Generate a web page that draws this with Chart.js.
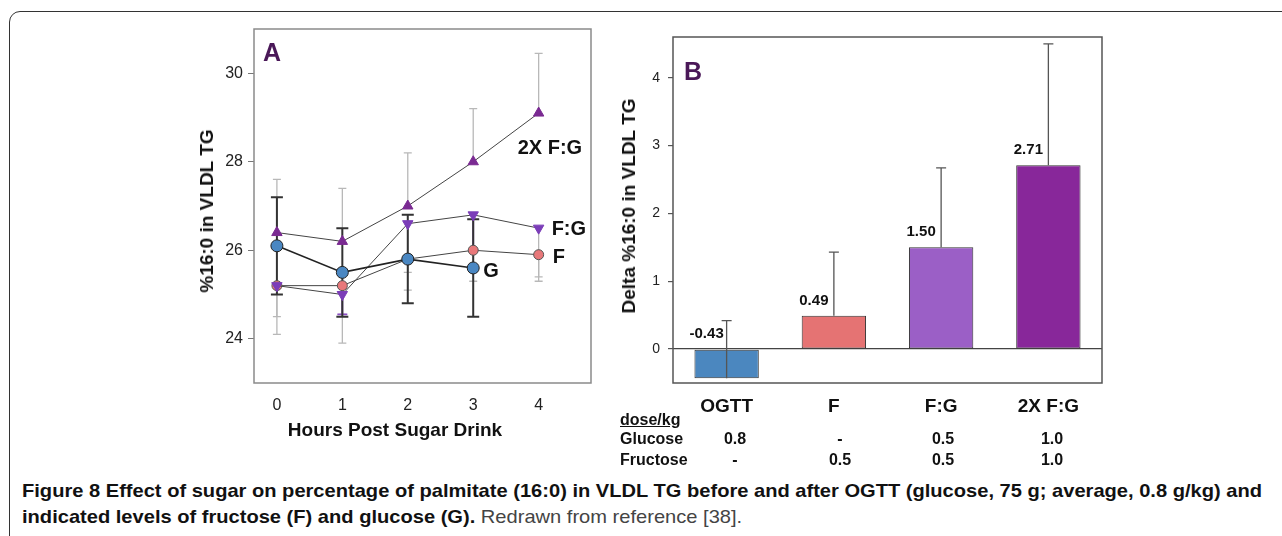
<!DOCTYPE html>
<html>
<head>
<meta charset="utf-8">
<script src="https://cdn.jsdelivr.net/npm/chart.js@4.4.0/dist/chart.umd.min.js"></script>
<style>
body { margin: 0; background: #fff; width: 1282px; height: 536px; overflow: hidden; position: relative;
       font-family: 'Liberation Sans', Arial, sans-serif; color: #111; }
.frame { position: absolute; left: 9px; top: 11px; width: 1300px; height: 560px; border: 1.5px solid #333; border-radius: 11px; }
.box { position: absolute; }
.t { position: absolute; white-space: nowrap; font-weight: bold; }
.rot { transform: translate(-50%, -50%) rotate(-90deg); }
.mid { transform: translate(-50%, -50%); }
.letter { font-size: 25px; color: #4a1858; }
.cap { position: absolute; left: 22px; white-space: nowrap; font-size: 19px; transform-origin: 0 50%;
       font-family: 'Liberation Sans Narrow', 'Liberation Sans', sans-serif; color: #111; }
.cap span { font-weight: normal; color: #444; }
</style>
</head>
<body>
<div class="frame"></div>

<div class="box" style="left:180px;top:20px"><canvas id="chartA" width="430" height="420"></canvas></div>
<div class="box" style="left:600px;top:20px"><canvas id="chartB" width="520" height="420"></canvas></div>

<div class="t letter" style="left:263px;top:38px">A</div>
<div class="t letter" style="left:684px;top:57px">B</div>

<div class="t rot" style="left:207px;top:211px;font-size:19px">%16:0 in VLDL TG</div>
<div class="t mid" style="left:395px;top:430px;font-size:19px">Hours Post Sugar Drink</div>
<div class="t rot" style="left:629px;top:206px;font-size:19px">Delta %16:0 in VLDL TG</div>

<div id="doseTable"></div>

<div class="cap" id="cap1" style="top:480px"><b>Figure 8 Effect of sugar on percentage of palmitate (16:0) in VLDL TG before and after OGTT (glucose, 75 g; average, 0.8 g/kg) and</b></div>
<div class="cap" id="cap2" style="top:506px"><b>indicated levels of fructose (F) and glucose (G).</b><span> Redrawn from reference [38].</span></div>

<script>
// Panel A: hours after drink
var hours = [0, 1, 2, 3, 4];

var gMean = [26.1, 25.5, 25.8, 25.6];
var gLow = [25.0, 24.5, 24.8, 24.5];
var gHigh = [27.2, 26.5, 26.8, 26.7];

var fMean = [25.2, 25.2, 25.8, 26.0, 25.9];
var fLow = [24.1, 23.9, 25.1, 25.3, 25.3];

var fgMean = [25.2, 25.0, 26.6, 26.8, 26.5];
var fgLow = [24.5, 24.55, 25.5, 26.0, 25.4];

var fg2Mean = [26.4, 26.2, 27.0, 28.0, 29.1];
var fg2High = [27.6, 27.4, 28.2, 29.2, 30.45];

var yTicksA = [24, 26, 28, 30];

// Panel B: change from baseline
var groups = ['OGTT', 'F', 'F:G', '2X F:G'];
var delta = [-0.43, 0.49, 1.50, 2.71];
var deltaHigh = [0.42, 1.43, 2.67, 4.50];
var yTicksB = [0, 1, 2, 3, 4];

var glucoseDose = ['0.8', '-', '0.5', '1.0'];
var fructoseDose = ['-', '0.5', '0.5', '1.0'];

function pts(xs, ys) {
    return ys.map(function (v, i) { return { x: xs[i], y: v }; });
}

var boxPlugin = {
    id: 'plotBox',
    afterDraw: function (chart, args, opts) {
        var a = chart.chartArea, ctx = chart.ctx;
        ctx.save();
        ctx.strokeStyle = opts.color;
        ctx.lineWidth = opts.width;
        ctx.strokeRect(a.left, a.top, a.right - a.left, a.bottom - a.top);
        ctx.restore();
    }
};

function drawBars(chart, list) {
    var ctx = chart.ctx, xs = chart.scales.x, ys = chart.scales.y;
    list.forEach(function (b) {
        ctx.save();
        ctx.strokeStyle = b.color;
        ctx.lineWidth = b.width;
        b.from.forEach(function (v, i) {
            if (b.to[i] == null) return;
            if (b.only && b.only.indexOf(i) < 0) return;
            var x = xs.getPixelForValue(b.x[i]);
            var y1 = ys.getPixelForValue(v), y2 = ys.getPixelForValue(b.to[i]);
            ctx.beginPath();
            ctx.moveTo(x, y1); ctx.lineTo(x, y2);
            ctx.moveTo(x - b.cap, y2); ctx.lineTo(x + b.cap, y2);
            ctx.stroke();
        });
        ctx.restore();
    });
}

var errorPlugin = {
    id: 'errorBars',
    beforeDatasetsDraw: function (chart, args, opts) { drawBars(chart, opts.under || []); },
    afterDatasetsDraw: function (chart, args, opts) { drawBars(chart, opts.over || []); }
};

var textPlugin = {
    id: 'pointText',
    afterDatasetsDraw: function (chart, args, opts) {
        var ctx = chart.ctx;
        ctx.save();
        ctx.font = opts.font;
        ctx.fillStyle = '#111';
        ctx.textBaseline = 'middle';
        (opts.items || []).forEach(function (it) {
            var el = chart.getDatasetMeta(it.dataset).data[it.index];
            ctx.textAlign = it.align || 'left';
            ctx.fillText(it.text, el.x + it.dx, el.y + it.dy);
        });
        ctx.restore();
    }
};

function fixWidth(w) {
    return function (scale) {
        scale.width = w;
        scale.paddingTop = 0; scale.paddingBottom = 0;
    };
}
function fixHeight(h) {
    return function (scale) {
        scale.height = h;
        scale.paddingLeft = 0; scale.paddingRight = 0;
    };
}
function setTicks(list) {
    return function (scale) {
        scale.ticks = list.map(function (v) { return { value: v }; });
    };
}

var tickFont = { family: "'Liberation Sans', Arial, sans-serif", size: 16 };

new Chart(document.getElementById('chartA'), {
    type: 'line',
    data: {
        datasets: [
            { label: 'G', data: pts(hours, gMean), borderColor: '#222', borderWidth: 1.6,
              pointRadius: 6, pointBackgroundColor: '#4a87c2', pointBorderColor: '#222', pointBorderWidth: 1 },
            { label: 'F:G', data: pts(hours, fgMean), borderColor: '#444', borderWidth: 1,
              pointStyle: 'triangle', rotation: 180, pointRadius: 6,
              pointBackgroundColor: '#7b3db8', pointBorderColor: '#7b3db8' },
            { label: 'F', data: pts(hours, fMean), borderColor: '#444', borderWidth: 1,
              pointRadius: 5, pointBackgroundColor: '#e8787a', pointBorderColor: '#555', pointBorderWidth: 1 },
            { label: '2X F:G', data: pts(hours, fg2Mean), borderColor: '#444', borderWidth: 1,
              pointStyle: 'triangle', pointRadius: 6,
              pointBackgroundColor: '#7a2a92', pointBorderColor: '#7a2a92' }
        ]
    },
    options: {
        responsive: false,
        animation: false,
        layout: { padding: { left: 24, top: 9, right: 19, bottom: 17 } },
        scales: {
            x: {
                type: 'linear', min: -0.35, max: 4.8,
                afterBuildTicks: setTicks(hours),
                afterFit: fixHeight(40),
                grid: { display: false, drawTicks: false },
                border: { display: false },
                ticks: { font: tickFont, color: '#222', padding: 13 }
            },
            y: {
                min: 23, max: 31,
                afterBuildTicks: setTicks(yTicksA),
                afterFit: fixWidth(50),
                grid: { drawOnChartArea: false, drawTicks: true, tickLength: 6, color: '#777' },
                border: { display: false },
                ticks: { font: tickFont, color: '#222', padding: 5 }
            }
        },
        plugins: {
            legend: { display: false },
            tooltip: { enabled: false },
            plotBox: { color: '#8a8a8a', width: 1.5 },
            errorBars: {
                under: [
                    { x: hours, from: fg2Mean, to: fg2High, color: '#b8b8b8', width: 1.3, cap: 4 },
                    { x: hours, from: fMean, to: fLow, color: '#b8b8b8', width: 1.3, cap: 4 },
                    { x: hours, from: fgMean, to: fgLow, color: '#b8b8b8', width: 1.3, cap: 4 },
                    { x: hours, from: fgMean, to: fgLow, color: '#8a4cc4', width: 1.8, cap: 5, only: [1, 3] },
                    { x: hours, from: gMean, to: gHigh, color: '#333', width: 2, cap: 6 },
                    { x: hours, from: gMean, to: gLow, color: '#333', width: 2, cap: 6 }
                ]
            },
            pointText: {
                font: "bold 20px 'Liberation Sans', Arial, sans-serif",
                items: [
                    { text: '2X F:G', dataset: 3, index: 4, dx: -21, dy: 35 },
                    { text: 'F:G', dataset: 1, index: 4, dx: 13, dy: 1 },
                    { text: 'F', dataset: 2, index: 4, dx: 14, dy: 3 },
                    { text: 'G', dataset: 0, index: 3, dx: 10, dy: 4 }
                ]
            }
        }
    },
    plugins: [boxPlugin, errorPlugin, textPlugin]
});

var valuePlugin = {
    id: 'barValues',
    afterDatasetsDraw: function (chart) {
        var ctx = chart.ctx, xs = chart.scales.x, ys = chart.scales.y;
        ctx.save();
        ctx.font = "bold 15px 'Liberation Sans', Arial, sans-serif";
        ctx.fillStyle = '#111';
        ctx.textAlign = 'center';
        ctx.textBaseline = 'middle';
        delta.forEach(function (v, i) {
            ctx.fillText(v.toFixed(2), xs.getPixelForValue(i) - 20, ys.getPixelForValue(Math.max(v, 0)) - 15);
        });
        ctx.restore();
    }
};

new Chart(document.getElementById('chartB'), {
    type: 'bar',
    data: {
        labels: groups,
        datasets: [{
            data: delta,
            backgroundColor: ['#4b87bf', '#e57373', '#9b5fc6', '#88279a'],
            borderColor: '#333',
            borderWidth: 1,
            borderSkipped: false,
            barPercentage: 0.6,
            categoryPercentage: 1
        }]
    },
    options: {
        responsive: false,
        animation: false,
        layout: { padding: { left: 23, top: 17, right: 18, bottom: 17 } },
        scales: {
            x: {
                afterFit: fixHeight(40),
                grid: { display: false, drawTicks: false },
                border: { display: false },
                ticks: { font: { family: "'Liberation Sans', Arial, sans-serif", size: 19, weight: 'bold' }, color: '#111', padding: 12 }
            },
            y: {
                min: -0.5, max: 4.6,
                afterBuildTicks: setTicks(yTicksB),
                afterFit: fixWidth(50),
                grid: {
                    drawTicks: true, tickLength: 5, tickColor: '#555',
                    color: function (c) { return c.tick && c.tick.value === 0 ? '#444' : 'rgba(0,0,0,0)'; },
                    lineWidth: 1.2
                },
                border: { display: false },
                ticks: { font: { family: "'Liberation Sans', Arial, sans-serif", size: 14 }, color: '#222', padding: 8 }
            }
        },
        plugins: {
            legend: { display: false },
            tooltip: { enabled: false },
            plotBox: { color: '#555', width: 1.5 },
            errorBars: {
                over: [
                    { x: [0, 1, 2, 3], from: delta, to: deltaHigh, color: '#555', width: 1.3, cap: 5 }
                ]
            }
        }
    },
    plugins: [boxPlugin, errorPlugin, valuePlugin]
});

// dose table under panel B
var colX = [735, 840, 943, 1052];
var table = document.getElementById('doseTable');
function addText(txt, left, top, center, extra) {
    var d = document.createElement('div');
    d.className = 't' + (center ? ' mid' : '');
    d.style.left = left + 'px';
    d.style.top = top + 'px';
    d.style.fontSize = '16px';
    if (!center) d.style.transform = 'translateY(-50%)';
    if (extra) d.style.textDecoration = extra;
    d.textContent = txt;
    table.appendChild(d);
}
addText('dose/kg', 620, 420, false, 'underline');
addText('Glucose', 620, 439, false);
addText('Fructose', 620, 460, false);
glucoseDose.forEach(function (v, i) { addText(v, colX[i], 439, true); });
fructoseDose.forEach(function (v, i) { addText(v, colX[i], 460, true); });

// squeeze caption line 1 to the reference width
var c1 = document.getElementById('cap1'), c2 = document.getElementById('cap2');
var k = 1240 / c1.getBoundingClientRect().width;
c1.style.transform = 'scaleX(' + k + ')';
c2.style.transform = 'scaleX(' + k + ')';
</script>
</body>
</html>
